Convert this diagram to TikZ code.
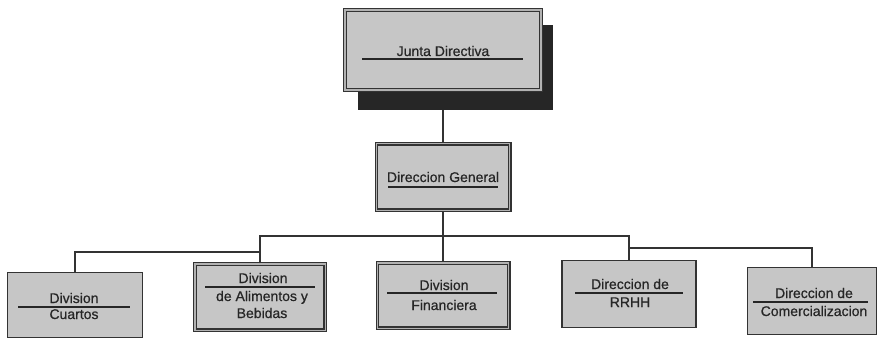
\documentclass[tikz,border=0pt]{standalone}
\usepackage{fontspec}
\setmainfont{Liberation Sans}
\newfontfamily\boxfont[FakeBold=0.6]{Liberation Sans}
\begin{document}
\begin{tikzpicture}[x=1pt,y=-1pt,
  box/.style={rectangle, draw=black!80, fill=gray!45, line width=1.5pt, inner sep=0pt},
  dbox/.style={box, line width=1.2pt, double=gray!60, double distance=1.3pt},
  txt/.style={font=\boxfont\fontsize{14}{16}\selectfont, text=black!85, inner sep=0pt, anchor=base},
  ul/.style={draw=black!85, line width=1.3pt},
  conn/.style={draw=black!80, line width=1.1pt},
  shadowfill/.style={fill=black!85}]
\useasboundingbox (0,0) rectangle (882,339);
\coordinate (jtop) at (443,90);
\coordinate (bus) at (443,236);
\coordinate (cuj) at (260,252);
\coordinate (coj) at (629,248);
% boxes
\node[box, minimum width=134.6pt, minimum height=64.6pt] (cua) at (75,305) {};
\node[dbox, minimum width=130.3pt, minimum height=66.3pt] (ali) at (260,297) {};
\node[dbox, minimum width=131.3pt, minimum height=65.3pt] (fin) at (443,295.5) {};
\node[box, minimum width=133.6pt, minimum height=66.6pt] (rrhh) at (629,294) {};
\node[box, minimum width=128.6pt, minimum height=66.6pt] (com) at (812,301) {};
\node[dbox, minimum width=133.3pt, minimum height=66.3pt] (dg) at (443,177) {};
% connectors
\draw[conn] (jtop) -- (dg.north);
\draw[conn] (dg.south) -- (fin.north);
\draw[conn] (ali.north) -- (ali.north |- bus) -| (rrhh.north);
\draw[conn] (cua.north) |- (cuj);
\draw[conn] (coj) -| (com.north);
% top box with shadow
\fill[shadowfill] (358,25) rectangle (553,110);
\node[dbox, minimum width=196.2pt, minimum height=80.2pt] (jd) at (443,50) {};
% texts
\node[txt] (tjd) at (443,56) {Junta Directiva};
\draw[ul] (362,59) -- (523,59);
\node[txt] (tdg) at (443,182) {Direccion General};
\draw[ul] (388,187) -- (498,187);
\node[txt] (tcua1) at (74,303) {Division};
\node[txt] (tcua2) at (74,319) {Cuartos};
\draw[ul] (18,307) -- (130,307);
\node[txt] (tali1) at (263,283) {Division};
\node[txt] (tali2) at (262,301) {de Alimentos y};
\node[txt] (tali3) at (262,318) {Bebidas};
\draw[ul] (205,287) -- (315,287);
\node[txt] (tfin1) at (444,290) {Division};
\node[txt] (tfin2) at (444,310) {Financiera};
\draw[ul] (387,293) -- (497,293);
\node[txt] (trr1) at (630,289) {Direccion de};
\node[txt] (trr2) at (630,307) {RRHH};
\draw[ul] (575,293) -- (683,293);
\node[txt] (tcom1) at (814,298) {Direccion de};
\node[txt] (tcom2) at (814,316) {Comercializacion};
\draw[ul] (753,302) -- (868,302);
\end{tikzpicture}
\end{document}
